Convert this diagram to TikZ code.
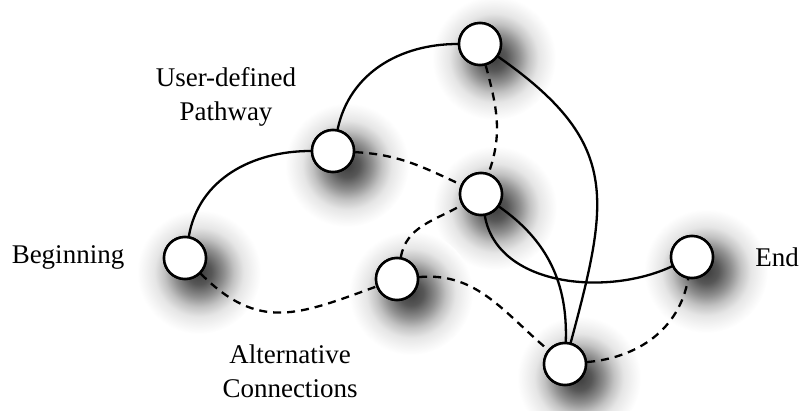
\documentclass[tikz,border=0pt]{standalone}
\usepackage{fontspec}
\setmainfont{Liberation Serif}

% soft radial fall-off used for the drop shadows (fades into the white page);
% the path edge sits at 25bp of the shading
\pgfdeclareradialshading{shadowramp}{\pgfpointorigin}{%
  color(0bp)=(black!76);
  color(5bp)=(black!66);
  color(10bp)=(black!44);
  color(14bp)=(black!24);
  color(18bp)=(black!10);
  color(22bp)=(black!4);
  color(25bp)=(white);
  color(50bp)=(white)}

\tikzset{
  x=1pt, y=1pt,
  stop/.style={circle, draw=black, line width=2.5pt, fill=white,
    minimum size=42pt, inner sep=0pt},
  path/.style={line width=2.3pt, line cap=round},
  alt/.style={line width=2.3pt, dash pattern=on 8pt off 6pt},
  caption/.style={font=\fontsize{27}{34}\selectfont, align=center, inner sep=0pt},
}

\begin{document}
\begin{tikzpicture}
\useasboundingbox (0,0) rectangle (803,410);

% stop positions
\coordinate (pA) at (185,152);
\coordinate (pB) at (333,259);
\coordinate (pC) at (480,366);
\coordinate (pD) at (481,216);
\coordinate (pE) at (397,131);
\coordinate (pF) at (692,153);
\coordinate (pG) at (565,46);

% drop shadows
\foreach \p in {pA,pB,pC,pD,pE,pF,pG}
  \shade[shading=shadowramp] ([shift={(14,-14)}]\p) circle (62);

% stops
\node[stop] (A) at (pA) {};
\node[stop] (B) at (pB) {};
\node[stop] (C) at (pC) {};
\node[stop] (D) at (pD) {};
\node[stop] (E) at (pE) {};
\node[stop] (F) at (pF) {};
\node[stop] (G) at (pG) {};

% user-defined pathway
\draw[path] (A) to[out=80, in=180] (B);
\draw[path] (B) to[out=78, in=180] (C);
\draw[path] (C) to[out=-35, in=75, looseness=1.3] (G);
\draw[path] (D) to[out=-35, in=88] (G);
\draw[path] (D) to[out=-80, in=205, looseness=0.95] (F);

% alternative connections
\draw[alt] (A) to[out=-45, in=200, looseness=1.2] (E);
\draw[alt] (B) to[out=-3, in=155] (D);
\draw[alt] (C) to[out=-75, in=70] (D);
\draw[alt] (E) to[out=80, in=210] (D);
\draw[alt] (E) to[out=5, in=140] (G);
\draw[alt] (G) to[out=5, in=-100] (F);

% redraw stops above the connector ends
\foreach \n in {A,B,C,D,E,F,G}
  \draw[line width=2.5pt, fill=white] (\n) circle (21);

% labels
\node[caption] (lbeg) at (68,153) {Beginning};
\node[caption] (lend) at (777,153) {End};
\node[caption] (luser) at (226,313) {User-defined\\Pathway};
\node[caption] (lalt) at (290,39) {Alternative\\Connections};
\end{tikzpicture}
\end{document}
